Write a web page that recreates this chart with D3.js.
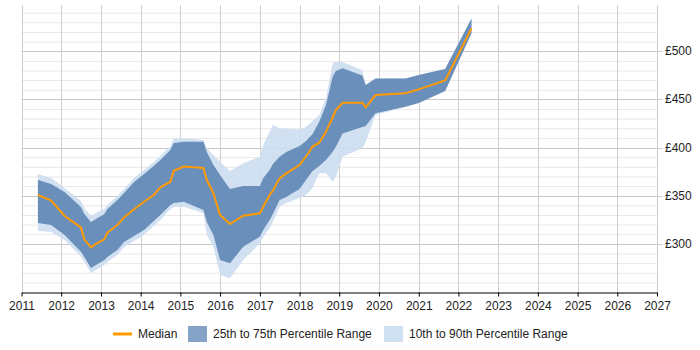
<!DOCTYPE html>
<html>
<head>
<meta charset="utf-8">
<script src="https://cdn.jsdelivr.net/npm/d3@7"></script>
<style>
  body { margin: 0; background: #fff; }
  svg text { font-family: "Liberation Sans", Arial, sans-serif; font-size: 12px; fill: #222; }
</style>
</head>
<body>
<div id="chart"></div>
<script>
// values (GBP per day)
let months = ["2011-06", "2011-10", "2012-02", "2012-07", "2012-08", "2012-10", "2012-12", "2013-02", "2013-03",
    "2013-06", "2013-08", "2013-11", "2014-02", "2014-05", "2014-07", "2014-10", "2014-11", "2015-02", "2015-08",
    "2015-09", "2015-11", "2016-01", "2016-04", "2016-08", "2017-01", "2017-02", "2017-04", "2017-05", "2017-07",
    "2017-09", "2018-01", "2018-03", "2018-05", "2018-07", "2018-09", "2018-11", "2018-12", "2019-02", "2019-08",
    "2019-09", "2019-12", "2020-09", "2021-01", "2021-09", "2022-05"];
let median = [350.7, 344.8, 328.9, 317, 304.7, 296.4, 300.9, 304.7, 311.6, 319.6, 327.5, 335.9, 343.7, 350.7, 358.7,
    364.5, 375.9, 380.3, 378.7, 366.3, 352.5, 329.9, 320.6, 329.2, 331.7, 338.5, 350.7, 355.2, 368, 373.2, 381.8,
    390.5, 401, 405, 416.4, 431.2, 438.9, 446.5, 446.5, 441.7, 454.5, 456.3, 460.4, 469.6, 523.7];
let p25 = [321.6, 319.6, 309.2, 291.8, 286.3, 274.9, 279.1, 283.2, 286.3, 293.6, 301.9, 308.1, 314.4, 323.7, 329.9,
    340.3, 342.4, 343.7, 335.1, 322.7, 309.2, 283.2, 279.8, 297, 307.4, 314.4, 324.7, 331, 345.5, 348.6, 356.9,
    366.3, 375.6, 380.8, 387, 395.3, 400.8, 414.7, 421.3, 422.3, 435.5, 442.4, 446.2, 458.7, 518.6];
let p75 = [366.3, 362.1, 353.8, 338.2, 331, 322.7, 326.8, 331, 336.2, 345.5, 352.8, 364.2, 372.5, 380.8, 387,
    397.4, 404.7, 406, 406, 395.3, 381.8, 371.5, 356.9, 360, 360, 368.3, 376.6, 382.9, 390.5, 395.3, 401.6,
    406.8, 414, 426.8, 444.1, 473.5, 479.4, 482.2, 474.8, 464.9, 471.8, 471.8, 475.3, 481.5, 534.1];
let p10 = [313.3, 312.3, 304, 286.6, 281.1, 269.7, 273.9, 278, 281.1, 288.4, 296.7, 302.9, 309.2, 318.5, 324.7,
    336.2, 338.2, 338.5, 331.7, 309.2, 297, 267.6, 264.2, 283.2, 300.6, 307.1, 316.1, 322.7, 338.5, 342.4, 347.6,
    350.7, 358, 373.2, 373.2, 364.5, 369.7, 390.5, 399.2, 405.7, 433.7, 442.4, 446.2, 458.7, 518.6];
let p90 = [372.5, 368.3, 358, 344.5, 337.2, 328.9, 333, 336.2, 340.3, 349.7, 356.9, 368.3, 376.6, 385, 391.2,
    401.6, 408.8, 409.6, 407.8, 399.2, 392.2, 385.3, 375.6, 383.6, 390.5, 402.6, 416.4, 423.4, 419.9, 419.7, 418.7,
    421.3, 427.5, 433.7, 451.4, 487.4, 489.1, 488.8, 480.5, 464.9, 471.8, 471.8, 475.3, 481.5, 534.1];
let yTicks = [300, 350, 400, 450, 500];
let legendNames = ["Median", "25th to 75th Percentile Range", "10th to 90th Percentile Range"];

let width = 700, height = 350;
let parseMonth = d3.timeParse("%Y-%m");

let rows = months.map((m, i) => ({
    date: parseMonth(m), med: median[i], lo25: p25[i], hi75: p75[i], lo10: p10[i], hi90: p90[i]
}));

let x = d3.scaleTime()
    .domain([new Date(2011, 0, 1), new Date(2027, 0, 1)])
    .range([21.5, 657]);
let y = d3.scaleLinear().domain([250, 548]).range([292, 5]);

let svg = d3.select('#chart').append('svg')
    .attr('width', width).attr('height', height);

// minor + major horizontal grid
let minor = d3.range(260, 548, 10).filter(v => v % 50 !== 0);
svg.append('g').selectAll('line').data(minor).join('line')
    .attr('x1', x.range()[0]).attr('x2', x.range()[1])
    .attr('y1', d => y(d) + 0.5).attr('y2', d => y(d) + 0.5)
    .attr('stroke', '#e8e8e8');
svg.append('g').selectAll('line').data(yTicks).join('line')
    .attr('x1', x.range()[0]).attr('x2', x.range()[1] + 5)
    .attr('y1', d => Math.round(y(d)) + 0.5).attr('y2', d => Math.round(y(d)) + 0.5)
    .attr('stroke', '#c8c8c8');

// vertical year grid
let years = x.ticks(d3.timeYear.every(1));
svg.append('g').selectAll('line').data(years).join('line')
    .attr('x1', d => Math.round(x(d)) + 0.5).attr('x2', d => Math.round(x(d)) + 0.5)
    .attr('y1', 5).attr('y2', 292)
    .attr('stroke', '#cfcfcf');

// bands
let band10 = d3.area().x(d => x(d.date)).y0(d => y(d.lo10)).y1(d => y(d.hi90));
let band25 = d3.area().x(d => x(d.date)).y0(d => y(d.lo25)).y1(d => y(d.hi75));
svg.append('path').datum(rows).attr('d', band10).attr('fill', '#cddef0').attr('opacity', 0.9);
svg.append('path').datum(rows).attr('d', band25).attr('fill', '#6a8fba');

let medLine = d3.line().x(d => x(d.date)).y(d => y(d.med));
svg.append('path').datum(rows).attr('d', medLine)
    .attr('fill', 'none').attr('stroke', '#ff9a00').attr('stroke-width', 2);

// x axis
let xAxis = svg.append('g').attr('transform', 'translate(0,292.5)')
    .call(d3.axisBottom(x).ticks(d3.timeYear.every(1)).tickFormat(d3.timeFormat('%Y')).tickSize(4).tickSizeOuter(0));
xAxis.select('.domain').attr('stroke', '#000');
xAxis.selectAll('.tick line').attr('stroke', '#000');
xAxis.selectAll('.tick text').attr('dy', '0.85em').style('font-size', '12px')
    .style('font-family', '"Liberation Sans", Arial, sans-serif');

// y labels on the right
svg.append('g').selectAll('text').data(yTicks).join('text')
    .attr('x', 665).attr('y', d => y(d) + 4)
    .text(d => '£' + d);

// legend
let legend = svg.append('g');
legend.append('line').attr('x1', 113).attr('x2', 132).attr('y1', 334).attr('y2', 334)
    .attr('stroke', '#ff9a00').attr('stroke-width', 3);
legend.append('text').attr('x', 138).attr('y', 338).text(legendNames[0]);
legend.append('rect').attr('x', 188).attr('y', 326).attr('width', 19).attr('height', 16).attr('fill', '#85a3c6');
legend.append('text').attr('x', 213).attr('y', 338).text(legendNames[1]);
legend.append('rect').attr('x', 384).attr('y', 326).attr('width', 19).attr('height', 16).attr('fill', '#cfe0f0');
legend.append('text').attr('x', 409).attr('y', 338).text(legendNames[2]);
</script>
</body>
</html>
